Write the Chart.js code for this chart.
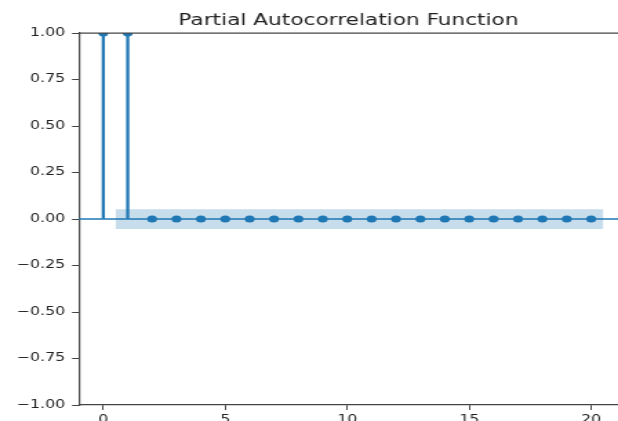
<!DOCTYPE html>
<html>
<head>
<meta charset="utf-8">
<script src="https://cdn.jsdelivr.net/npm/chart.js@4/dist/chart.umd.min.js"></script>
<style>
  html, body { margin: 0; padding: 0; background: #fff; overflow: hidden; }
  #wrap { width: 618px; height: 421px; overflow: hidden; }
  /* the reference is stretched sideways, so draw narrow and stretch the canvas */
  #pacf { display: block; transform: scaleX(1.3795); transform-origin: 0 0; }
</style>
</head>
<body>
<div id="wrap"><canvas id="pacf" width="448" height="440" style="width:448px;height:440px"></canvas></div>
<script>
const lags = [0, 1, 2, 3, 4, 5, 6, 7, 8, 9, 10, 11, 12, 13, 14, 15, 16, 17, 18, 19, 20];
const pacfValues = [1.0, 1.0, 0, 0, 0, 0, 0, 0, 0, 0, 0, 0, 0, 0, 0, 0, 0, 0, 0, 0, 0];
const confLimit = 0.053;          // half-width of the shaded 95% band
const bandLags = [0.5, 20.5];
const xTickValues = [0, 5, 10, 15, 20];
const yTickValues = [-1, -0.75, -0.5, -0.25, 0, 0.25, 0.5, 0.75, 1];

const blue = '#1f77b4';
const axisColor = '#444';
const font = { family: 'DejaVu Sans', size: 11.4 };

const stemPoints = lags.map((x, i) => ({ x: x, y: pacfValues[i] }));

const extras = {
  id: 'extras',
  beforeDatasetsDraw(chart) {
    const { ctx, chartArea: a, scales: { y } } = chart;
    const y0 = y.getPixelForValue(0);
    ctx.save();
    ctx.strokeStyle = blue;
    ctx.lineWidth = 1.5;
    ctx.beginPath();
    ctx.moveTo(a.left, y0);
    ctx.lineTo(a.right, y0);
    ctx.stroke();
    ctx.restore();
  },
  afterDraw(chart) {
    const { ctx, chartArea: a } = chart;
    ctx.save();
    ctx.strokeStyle = axisColor;
    ctx.lineWidth = 1.2;
    ctx.beginPath();
    ctx.moveTo(a.left, a.top);
    ctx.lineTo(a.right, a.top);
    ctx.stroke();
    ctx.restore();
  }
};

new Chart(document.getElementById('pacf').getContext('2d'), {
  data: {
    datasets: [
      {
        type: 'line',
        data: stemPoints,
        showLine: false,
        pointRadius: 3.6,
        pointBackgroundColor: blue,
        pointBorderWidth: 0,
        clip: 0
      },
      {
        type: 'bar',
        data: stemPoints,
        barThickness: 1.6,
        backgroundColor: blue
      },
      {
        type: 'line',
        data: bandLags.map(x => ({ x: x, y: confLimit })),
        borderWidth: 0,
        pointRadius: 0,
        fill: { value: -confLimit },
        backgroundColor: 'rgba(31,119,180,0.25)'
      }
    ]
  },
  options: {
    responsive: false,
    devicePixelRatio: 1,
    animation: false,
    layout: { padding: 0, autoPadding: false },
    plugins: {
      legend: { display: false },
      tooltip: { enabled: false },
      title: {
        display: true,
        fullSize: false,
        text: 'Partial Autocorrelation Function',
        color: '#222',
        font: { family: 'DejaVu Sans', size: 15.7, weight: 'normal', lineHeight: 1.2 },
        padding: { top: 11.4, bottom: 2.8 }
      }
    },
    scales: {
      x: {
        type: 'linear',
        offset: false,
        min: -1,
        max: 21.1,
        afterBuildTicks: s => { s.ticks = xTickValues.map(v => ({ value: v })); },
        afterFit: s => { s.height = 35; },
        ticks: { font: font, color: '#222', padding: 3, maxRotation: 0 },
        grid: { offset: false, drawOnChartArea: false, drawTicks: true, tickLength: 5, tickColor: axisColor },
        border: { display: true, color: axisColor, width: 1.2 }
      },
      y: {
        type: 'linear',
        min: -1,
        max: 1,
        afterBuildTicks: s => { s.ticks = yTickValues.map(v => ({ value: v })); },
        afterFit: s => { s.width = 57.2; },
        ticks: {
          font: font,
          color: '#222',
          padding: 5,
          callback: v => (v < 0 ? '\u2212' : '') + Math.abs(v).toFixed(2)
        },
        grid: { drawOnChartArea: false, drawTicks: true, tickLength: 5, tickColor: axisColor },
        border: { display: true, color: axisColor, width: 1.2 }
      }
    }
  },
  plugins: [extras]
});
</script>
</body>
</html>
